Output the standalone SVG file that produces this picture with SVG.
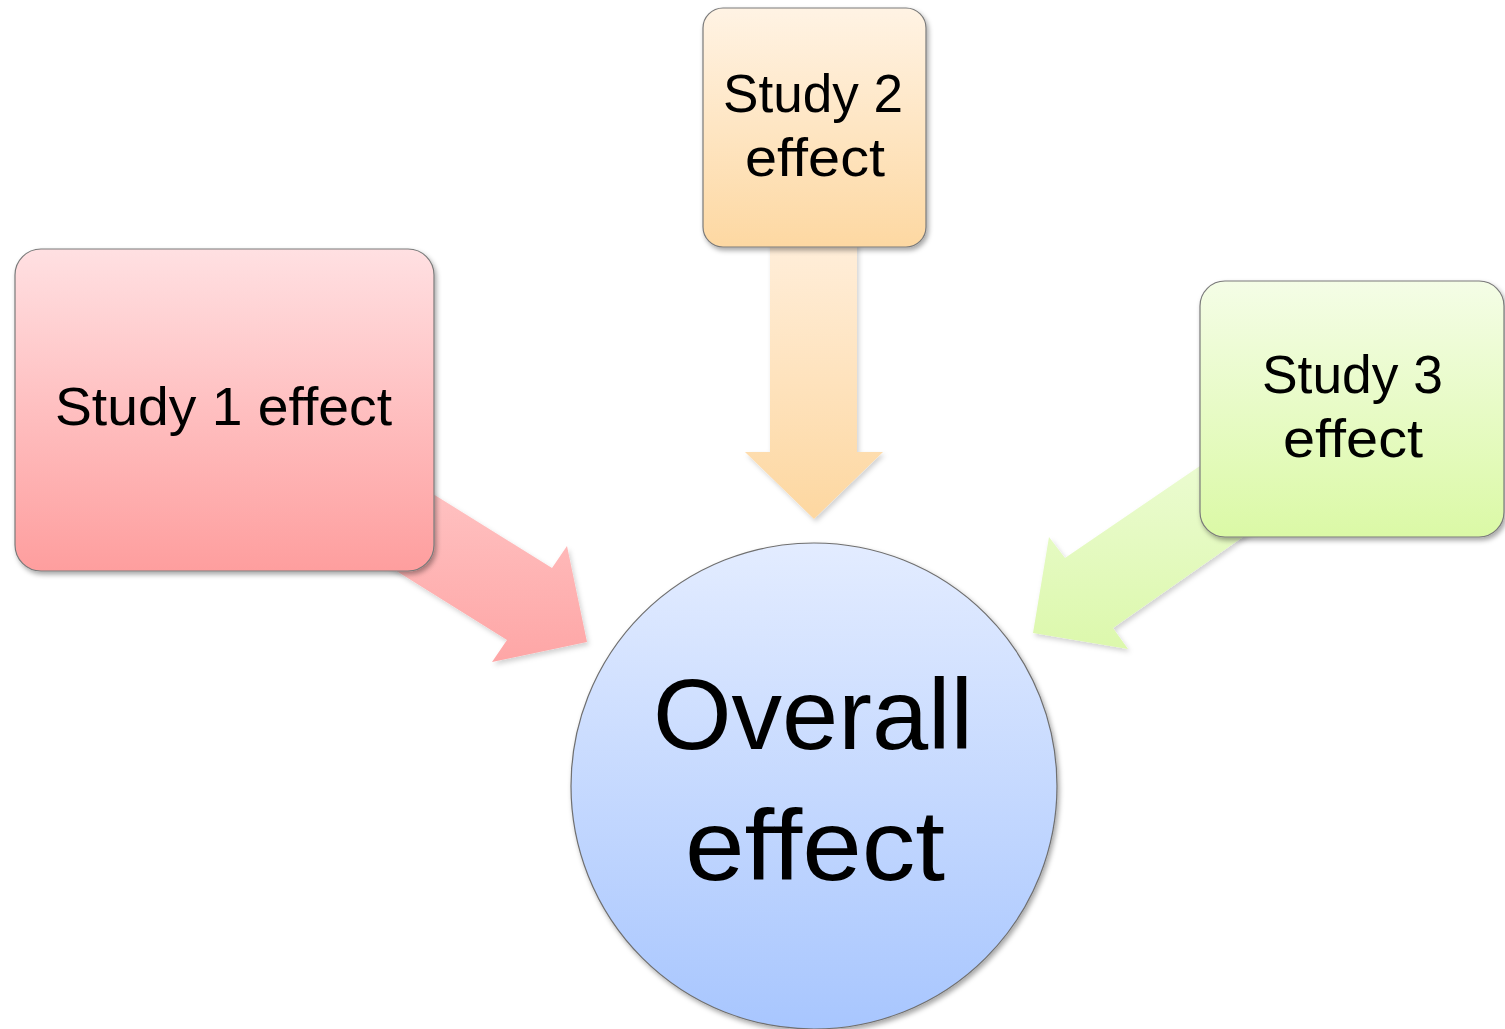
<svg xmlns="http://www.w3.org/2000/svg" width="1505" height="1029" viewBox="0 0 1505 1029">
  <defs>
    <linearGradient id="g1" x1="0" y1="0" x2="0" y2="1">
      <stop offset="0" stop-color="#FFE0E2"/>
      <stop offset="1" stop-color="#FE9E9E"/>
    </linearGradient>
    <linearGradient id="g2" x1="0" y1="0" x2="0" y2="1">
      <stop offset="0" stop-color="#FFF3E4"/>
      <stop offset="1" stop-color="#FDD8A2"/>
    </linearGradient>
    <linearGradient id="g3" x1="0" y1="0" x2="0" y2="1">
      <stop offset="0" stop-color="#F4FDE6"/>
      <stop offset="1" stop-color="#DBF9A6"/>
    </linearGradient>
    <linearGradient id="gc" x1="0" y1="0" x2="0" y2="1">
      <stop offset="0" stop-color="#E3ECFF"/>
      <stop offset="1" stop-color="#A8C6FE"/>
    </linearGradient>
    <linearGradient id="a1" gradientUnits="userSpaceOnUse" x1="0" y1="460" x2="0" y2="662">
      <stop offset="0" stop-color="#FFC6C6"/>
      <stop offset="1" stop-color="#FEA6A6"/>
    </linearGradient>
    <linearGradient id="a2" gradientUnits="userSpaceOnUse" x1="0" y1="240" x2="0" y2="520">
      <stop offset="0" stop-color="#FFEEDA"/>
      <stop offset="1" stop-color="#FDD7A0"/>
    </linearGradient>
    <linearGradient id="a3" gradientUnits="userSpaceOnUse" x1="0" y1="425" x2="0" y2="650">
      <stop offset="0" stop-color="#EEFCD8"/>
      <stop offset="1" stop-color="#DCF8AC"/>
    </linearGradient>
    <filter id="sh" x="-10%" y="-10%" width="125%" height="125%">
      <feDropShadow dx="2" dy="3" stdDeviation="2.5" flood-color="#000" flood-opacity="0.35"/>
    </filter>
    <filter id="ash" x="-10%" y="-10%" width="125%" height="125%">
      <feDropShadow dx="2" dy="3" stdDeviation="2.5" flood-color="#000" flood-opacity="0.18"/>
    </filter>
  </defs>
  <style>
    .box { stroke: #7a7a7a; stroke-width: 1.2; }
    .lbl { font-family: "Liberation Sans", Arial, sans-serif; fill: #000; text-anchor: middle; font-variant-ligatures: none; font-feature-settings: "liga" 0; }
    .s { font-size: 54px; }
    .b { font-size: 100px; }
  </style>
  <rect width="1505" height="1029" fill="#FFFFFF"/>

  <g id="connectors">
    <polygon filter="url(#ash)" fill="url(#a1)" points="380,461 552,568 567,546 587,642 492,662 507,640 350,542"/>
    <polygon filter="url(#ash)" fill="url(#a2)" points="770,235 857,235 857,452 883,452 814,519 745,452 770,452"/>
    <polygon filter="url(#ash)" fill="url(#a3)" points="1260,425 1065,558 1049,537 1033,633 1128,649 1113,628 1290,504"/>
  </g>

  <g id="study1">
    <rect class="box" x="15" y="249" width="419" height="322" rx="26" fill="url(#g1)" filter="url(#sh)"/>
    <text class="lbl s" x="223.5" y="425" textLength="337" lengthAdjust="spacingAndGlyphs">Study 1 effect</text>
  </g>

  <g id="study2">
    <rect class="box" x="703" y="8" width="223" height="239" rx="20" fill="url(#g2)" filter="url(#sh)"/>
    <text class="lbl s" x="813" y="112" textLength="180" lengthAdjust="spacingAndGlyphs">Study 2</text>
    <text class="lbl s" x="815" y="176" textLength="140" lengthAdjust="spacingAndGlyphs">effect</text>
  </g>

  <g id="study3">
    <rect class="box" x="1200" y="281" width="304" height="256" rx="25" fill="url(#g3)" filter="url(#sh)"/>
    <text class="lbl s" x="1352.5" y="393" textLength="181" lengthAdjust="spacingAndGlyphs">Study 3</text>
    <text class="lbl s" x="1353" y="457" textLength="140" lengthAdjust="spacingAndGlyphs">effect</text>
  </g>

  <g id="overall">
    <circle cx="814" cy="786" r="243" fill="url(#gc)" stroke="#6f6f6f" stroke-width="1.2" filter="url(#sh)"/>
    <text class="lbl b" x="813" y="749" textLength="320" lengthAdjust="spacingAndGlyphs">Overall</text>
    <text class="lbl b" x="815" y="880" textLength="260" lengthAdjust="spacingAndGlyphs">effect</text>
  </g>
</svg>
